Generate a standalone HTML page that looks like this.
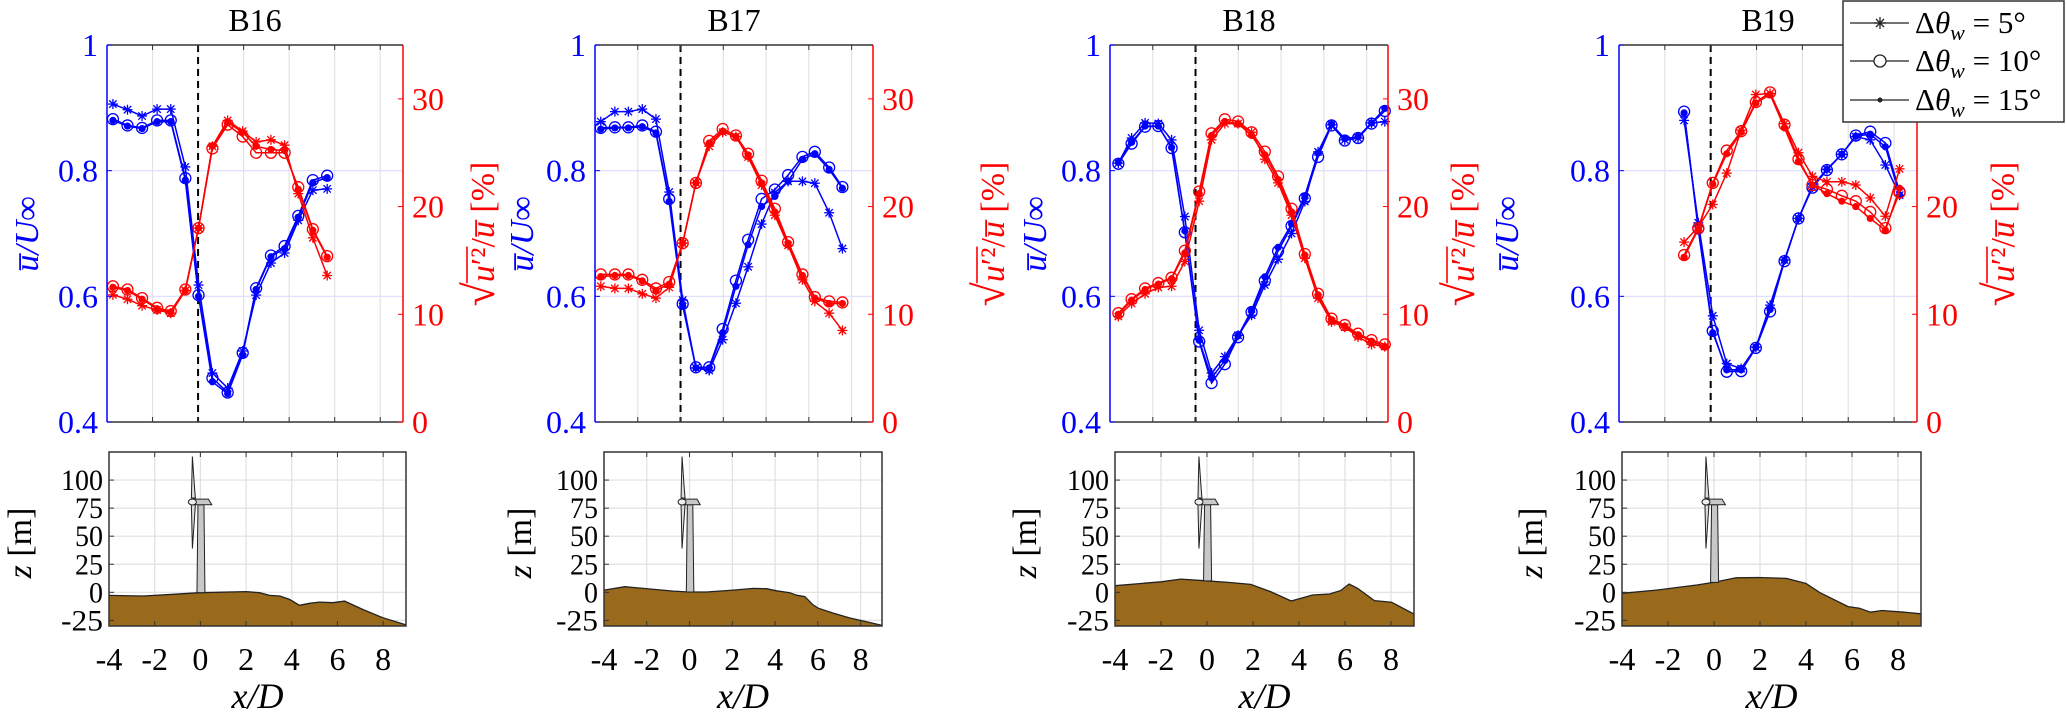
<!DOCTYPE html>
<html><head><meta charset="utf-8">
<style>
html,body{margin:0;padding:0;background:#fff;}
svg, svg text{font-family:"Liberation Serif","DejaVu Serif","Noto Serif CJK SC",serif;}
</style></head>
<body>
<svg id="chart" width="2067" height="718" viewBox="0 0 2067 718" xmlns="http://www.w3.org/2000/svg" font-family="Liberation Serif, DejaVu Serif, serif">
<g id="layer"></g>
<g>
  <rect x="1843" y="1" width="221" height="121" fill="#fff" stroke="#333" stroke-width="1.5"/>
  <g>
    <line x1="1850" y1="23" x2="1909" y2="23" stroke="#222" stroke-width="1.2"/>
    <g stroke="#222" stroke-width="1.3"><line x1="1874" y1="23" x2="1886" y2="23"/><line x1="1880" y1="17" x2="1880" y2="29"/><line x1="1876" y1="19" x2="1884" y2="27"/><line x1="1884" y1="19" x2="1876" y2="27"/></g>
    <text x="1915" y="33" font-size="31">Δ<tspan font-style="italic">θ</tspan><tspan font-style="italic" font-size="22" dy="7">w</tspan><tspan dy="-7"> = 5°</tspan></text>
  </g>
  <g>
    <line x1="1850" y1="61" x2="1909" y2="61" stroke="#222" stroke-width="1.2"/>
    <circle cx="1880" cy="61" r="6" fill="#fff" stroke="#222" stroke-width="1.3"/>
    <text x="1915" y="71" font-size="31">Δ<tspan font-style="italic">θ</tspan><tspan font-style="italic" font-size="22" dy="7">w</tspan><tspan dy="-7"> = 10°</tspan></text>
  </g>
  <g>
    <line x1="1850" y1="100" x2="1909" y2="100" stroke="#222" stroke-width="1.2"/>
    <circle cx="1880" cy="100" r="2.5" fill="#222"/>
    <text x="1915" y="110" font-size="31">Δ<tspan font-style="italic">θ</tspan><tspan font-style="italic" font-size="22" dy="7">w</tspan><tspan dy="-7"> = 15°</tspan></text>
  </g>
</g>
</svg>
<script>
// ---------- data ----------
const panelNames = ["B16","B17","B18","B19"];
const uTicks = [0.4,0.6,0.8,1];
const uTickLabels = ["0.4","0.6","0.8","1"];
const tiTicks = [0,10,20,30];
const tiTickLabels = ["0","10","20","30"];
const xTicks = [-4,-2,0,2,4,6,8];
const xTickLabels = ["-4","-2","0","2","4","6","8"];
const zTicks = [-25,0,25,50,75,100];
const zTickLabels = ["-25","0","25","50","75","100"];

const b16X = [-3.74,-3.1,-2.46,-1.8,-1.2,-0.56,0.02,0.63,1.3,1.96,2.55,3.2,3.8,4.4,5.04,5.67];
const b16U5  = [0.906,0.897,0.887,0.898,0.898,0.806,0.618,0.478,0.454,0.513,0.602,0.653,0.669,0.721,0.769,0.771];
const b16U10 = [0.882,0.872,0.868,0.880,0.880,0.788,0.602,0.470,0.447,0.510,0.613,0.665,0.680,0.728,0.785,0.792];
const b16U15 = [0.880,0.871,0.867,0.878,0.878,0.785,0.600,0.464,0.445,0.507,0.611,0.663,0.676,0.726,0.781,0.789];
const b16T5  = [11.8,11.4,10.8,10.4,10.1,12.2,18.0,25.6,28.0,27.0,26.0,26.2,25.7,21.2,17.1,13.6];
const b16T10 = [12.6,12.3,11.5,10.6,10.3,12.3,18.0,25.4,27.6,26.5,25.0,25.0,25.0,21.8,17.9,15.4];
const b16T15 = [12.5,12.2,11.4,10.5,10.2,12.2,18.0,25.6,27.8,26.9,25.6,25.3,25.2,21.6,17.8,15.3];

const b17X = [-3.73,-3.07,-2.44,-1.79,-1.15,-0.53,0.10,0.72,1.34,1.97,2.59,3.16,3.79,4.41,5.03,5.70,6.28,6.95,7.57];
const b17U5  = [0.878,0.894,0.894,0.898,0.882,0.766,0.594,0.486,0.482,0.531,0.589,0.647,0.715,0.765,0.783,0.783,0.780,0.733,0.676];
const b17U10 = [0.868,0.869,0.869,0.872,0.862,0.755,0.588,0.487,0.487,0.548,0.625,0.690,0.755,0.770,0.793,0.822,0.830,0.805,0.774];
const b17U15 = [0.866,0.868,0.868,0.870,0.860,0.751,0.585,0.486,0.486,0.542,0.616,0.682,0.743,0.759,0.783,0.818,0.827,0.802,0.772];
const b17T5  = [12.6,12.4,12.4,11.9,11.5,12.5,16.6,22.2,25.6,26.9,26.5,24.6,22.0,19.2,16.4,13.2,11.2,10.1,8.5];
const b17T10 = [13.7,13.7,13.7,13.2,12.4,13.0,16.6,22.2,26.1,27.2,26.6,24.9,22.4,19.8,16.7,13.7,11.6,11.2,11.1];
const b17T15 = [13.5,13.6,13.6,13.1,12.2,12.8,16.6,22.2,25.9,27.0,26.5,24.8,22.2,19.5,16.6,13.6,11.5,11.0,11.0];

const b18X = [-3.61,-2.99,-2.36,-1.74,-1.12,-0.50,0.17,0.75,1.37,1.99,2.62,3.24,3.86,4.49,5.11,5.73,6.36,6.98,7.60,8.23,8.85];
const b18U5  = [0.812,0.852,0.876,0.875,0.849,0.727,0.546,0.478,0.504,0.538,0.570,0.618,0.659,0.700,0.751,0.830,0.873,0.849,0.852,0.876,0.878];
const b18U10 = [0.811,0.843,0.870,0.871,0.836,0.702,0.528,0.462,0.492,0.535,0.575,0.625,0.672,0.712,0.756,0.822,0.872,0.848,0.852,0.875,0.895];
const b18U15 = [0.813,0.845,0.871,0.871,0.837,0.704,0.530,0.470,0.498,0.537,0.578,0.631,0.678,0.715,0.760,0.828,0.874,0.851,0.854,0.876,0.899];
const b18T5  = [9.8,11.0,11.9,12.5,12.6,14.9,20.5,26.2,27.7,27.7,26.9,24.4,22.2,19.2,15.2,11.5,9.3,8.8,7.9,7.2,7.0];
const b18T10 = [10.1,11.4,12.4,12.9,13.4,15.9,21.4,26.8,28.1,27.9,26.9,25.1,22.8,19.8,15.6,11.9,9.6,9.0,8.2,7.6,7.2];
const b18T15 = [10.0,11.3,12.3,12.8,13.3,15.7,21.2,26.6,27.9,27.7,26.6,24.8,22.5,19.5,15.5,11.8,9.5,8.9,8.1,7.5,7.0];

const b19X = [-1.16,-0.54,0.09,0.70,1.33,1.97,2.59,3.22,3.83,4.44,5.07,5.72,6.33,6.96,7.62,8.24];
const b19U5  = [0.880,0.717,0.569,0.493,0.485,0.519,0.586,0.658,0.724,0.774,0.802,0.826,0.854,0.849,0.809,0.761];
const b19U10 = [0.894,0.708,0.545,0.480,0.481,0.518,0.576,0.656,0.724,0.773,0.801,0.826,0.856,0.862,0.844,0.766];
const b19U15 = [0.892,0.706,0.542,0.483,0.483,0.519,0.579,0.657,0.724,0.776,0.802,0.826,0.855,0.858,0.838,0.761];
const b19T5  = [16.7,18.1,20.2,23.1,27.1,30.4,30.5,27.7,25.0,22.8,22.3,22.3,22.0,20.8,19.1,23.5];
const b19T10 = [15.5,18.0,22.2,25.2,27.0,29.7,30.6,27.6,24.4,22.0,21.6,21.0,20.5,19.5,18.0,21.3];
const b19T15 = [15.3,17.9,22.1,24.9,26.9,29.6,30.4,27.3,24.2,22.0,21.2,20.5,20.0,18.9,17.8,21.7];

const b16TerrX = [-4,-2.5,-1.19,-0.03,2.01,2.59,3.03,3.47,3.90,4.34,4.78,5.21,5.80,6.31,7.10,7.98,9.0];
const b16TerrZ = [-2.7,-3.3,-1.8,-0.3,0.6,-0.3,-2.7,-3.3,-6.3,-11.6,-9.8,-8.7,-9.2,-7.8,-15.2,-22.6,-29];
const b17TerrX = [-4,-3.02,-2.16,-0.76,-0.01,0.80,2.04,2.98,3.60,4.07,4.69,5.00,5.39,5.78,6.02,6.72,7.50,8.28,9.0];
const b17TerrZ = [2.0,5.0,3.5,1.1,0.3,0.3,2.0,3.5,3.2,1.4,-0.3,-2.6,-3.8,-11.2,-14.1,-18.5,-22.9,-26.2,-29.5];
const b18TerrX = [-4,-2.0,-1.14,-0.04,0.93,1.90,2.76,3.66,4.59,5.32,5.81,6.18,6.55,7.28,8.02,9.0];
const b18TerrZ = [5.9,9.4,11.8,10.3,8.8,7.1,0.6,-7.7,-2.4,-1.5,1.5,7.4,3.5,-7.4,-8.8,-19.4];
const b19TerrX = [-4,-2.46,-0.75,-0.02,0.96,1.93,3.15,4.0,4.61,5.83,6.32,6.81,7.30,8.28,9.0];
const b19TerrZ = [-0.9,2.1,6.5,8.8,12.9,13.2,12.4,7.9,-0.3,-12.7,-14.1,-17.7,-16.2,-17.7,-19.1];

// ---------- layout ----------
const upperBox = [{l:107,r:403},{l:595,r:873},{l:1110,r:1388},{l:1619,r:1917}];
const lowerBox = [{l:109,r:406},{l:604,r:882},{l:1115,r:1414},{l:1622,r:1921}];
const blueLabelX = [27,522,1035,1507];
const redLabelX = [480,990,1460,2000];
const zLabelX = [20,520,1025,1531];
const UT=45, UB=422, LT=452, LB=626;
const FONT="Liberation Serif, DejaVu Serif, serif";
const NS="http://www.w3.org/2000/svg";
const layer=document.getElementById('layer');
function mk(tag,attrs,parent){const e=document.createElementNS(NS,tag);for(const k in attrs)e.setAttribute(k,attrs[k]);if(tag==='text')e.setAttribute('font-family',FONT);(parent||layer).appendChild(e);return e;}

const sx=(b,x)=>b.l+(x+4)/13*(b.r-b.l);
const syU=u=>UB-(u-0.4)/0.6*(UB-UT);
const syT=t=>UB-t/35*(UB-UT);
const sz=z=>LB-(z+30)/155*(LB-LT);

const panelData=[
 {x:b16X,u:[b16U5,b16U10,b16U15],t:[b16T5,b16T10,b16T15],tx:b16TerrX,tz:b16TerrZ},
 {x:b17X,u:[b17U5,b17U10,b17U15],t:[b17T5,b17T10,b17T15],tx:b17TerrX,tz:b17TerrZ},
 {x:b18X,u:[b18U5,b18U10,b18U15],t:[b18T5,b18T10,b18T15],tx:b18TerrX,tz:b18TerrZ},
 {x:b19X,u:[b19U5,b19U10,b19U15],t:[b19T5,b19T10,b19T15],tx:b19TerrX,tz:b19TerrZ}];
const seriesNames=["5deg","10deg","15deg"];

function marker(g,kind,x,y,col){
  if(kind===0){
    const m=mk('g',{stroke:col,'stroke-width':1.3},g);
    
    
    mk('line',{x1:x-5,y1:y,x2:x+5,y2:y},m);mk('line',{x1:x,y1:y-5,x2:x,y2:y+5},m);
    mk('line',{x1:x-3.7,y1:y-3.7,x2:x+3.7,y2:y+3.7},m);mk('line',{x1:x+3.7,y1:y-3.7,x2:x-3.7,y2:y+3.7},m);
  } else if(kind===1){
    const c=mk('circle',{cx:x,cy:y,r:5.5,fill:'none',stroke:col,'stroke-width':1.3},g);
    
    
  } else {
    const c=mk('circle',{cx:x,cy:y,r:3.6,fill:col},g);
    
    
  }
}

panelData.forEach((d,p)=>{
  const b=upperBox[p], lb=lowerBox[p];
  const g=mk('g',{});
  
  
  const tt=mk('text',{x:(b.l+b.r)/2,y:31,'font-size':32,'text-anchor':'middle',fill:'#000'},g);
  tt.textContent=panelNames[p];
  
  
  xTicks.forEach(v=>{ if(v>-4){const X=sx(b,v); mk('line',{x1:X,y1:UT,x2:X,y2:UB,stroke:'#e3e3e3','stroke-width':1.2},g);} });
  [0.6,0.8].forEach(v=>mk('line',{x1:b.l,y1:syU(v),x2:b.r,y2:syU(v),stroke:'#dcdcff','stroke-width':1.2},g));
  const dl=mk('line',{x1:sx(b,0),y1:UT,x2:sx(b,0),y2:UB,stroke:'#000','stroke-width':2,'stroke-dasharray':'7,5'},g);
  
  
  const cols=['#0000ff','#ff0000'];
  [d.u,d.t].forEach((arrs,k)=>{
    const yf=k===0?syU:syT;
    arrs.forEach((vals,s)=>{
      const sg=mk('g',{},g);
      
      
      const pts=vals.map((v,i)=>sx(b,d.x[i]).toFixed(1)+','+yf(v).toFixed(1)).join(' ');
      mk('polyline',{points:pts,fill:'none',stroke:cols[k],'stroke-width':1.5},sg);
      vals.forEach((v,i)=>marker(sg,s,sx(b,d.x[i]),yf(v),cols[k]));
    });
  });
  mk('line',{x1:b.l,y1:UT,x2:b.r,y2:UT,stroke:'#333','stroke-width':1.5},g);
  mk('line',{x1:b.l,y1:UB,x2:b.r,y2:UB,stroke:'#333','stroke-width':1.5},g);
  xTicks.forEach(v=>{const X=sx(b,v);mk('line',{x1:X,y1:UB,x2:X,y2:UB-5,stroke:'#333'},g);mk('line',{x1:X,y1:UT,x2:X,y2:UT+5,stroke:'#333'},g);});
  const la=mk('line',{x1:b.l,y1:UT,x2:b.l,y2:UB,stroke:'#0000ff','stroke-width':1.5},g);
  
  
  const ra=mk('line',{x1:b.r,y1:UT,x2:b.r,y2:UB,stroke:'#ff0000','stroke-width':1.5},g);
  
  
  uTicks.forEach((v,i)=>{const Y=syU(v);mk('line',{x1:b.l,y1:Y,x2:b.l+5,y2:Y,stroke:'#0000ff'},g);
    const t=mk('text',{x:b.l-9,y:Y+11,'font-size':32,'text-anchor':'end',fill:'#0000ff'},g);t.textContent=uTickLabels[i];
    
    });
  tiTicks.forEach((v,i)=>{const Y=syT(v);mk('line',{x1:b.r,y1:Y,x2:b.r-5,y2:Y,stroke:'#ff0000'},g);
    const t=mk('text',{x:b.r+9,y:Y+11,'font-size':32,fill:'#ff0000'},g);t.textContent=tiTickLabels[i];
    
    });
  const bl=mk('text',{x:0,y:0,'font-size':34,'text-anchor':'middle',fill:'#0000ff','font-style':'italic',transform:`translate(${blueLabelX[p]+11},234) rotate(-90)`},g);
  bl.textContent='u\u0305/U∞';
  
  
  const rg=mk('g',{transform:`translate(${redLabelX[p]+14},234) rotate(-90)`},g);
  
  
  const rt=mk('text',{x:0,y:0,'font-size':34,'text-anchor':'middle',fill:'#ff0000'},rg);
  rt.innerHTML='<tspan font-size="44">√</tspan><tspan font-style="italic">u</tspan>′²/<tspan font-style="italic">u\u0305</tspan> [%]';
  try{
    const s=rt.getExtentOfChar(1), e=rt.getExtentOfChar(3);
    mk('line',{x1:s.x-1,y1:s.y+2,x2:e.x+e.width+1,y2:s.y+2,stroke:'#ff0000','stroke-width':1.6},rg);
  }catch(err){}

  const lg=mk('g',{},g);
  
  
  xTicks.forEach(v=>{ if(v>-4){const X=sx(lb,v); mk('line',{x1:X,y1:LT,x2:X,y2:LB,stroke:'#e0e0e0','stroke-width':1.2},lg);} });
  zTicks.forEach(v=>mk('line',{x1:lb.l,y1:sz(v),x2:lb.r,y2:sz(v),stroke:'#e0e0e0','stroke-width':1.2},lg));
  let pts=d.tx.map((x,i)=>sx(lb,x).toFixed(1)+','+sz(d.tz[i]).toFixed(1)).join(' ');
  const terr=mk('polygon',{points:`${lb.l},${LB} `+pts+` ${lb.r},${LB}`,fill:'#9a6a1c',stroke:'none'},lg);
  
  
  mk('polyline',{points:pts,fill:'none',stroke:'#222','stroke-width':1.3},lg);
  let base=0; for(let i=0;i<d.tx.length-1;i++){if(d.tx[i]<=0&&d.tx[i+1]>=0){const f=(0-d.tx[i])/(d.tx[i+1]-d.tx[i]);base=d.tz[i]+f*(d.tz[i+1]-d.tz[i]);}}
  const tg=mk('g',{stroke:'#222','stroke-width':1,fill:'#c8c8c8'},lg);
  
  
  const x0=sx(lb,-0.15),x1=sx(lb,0.2);
  mk('polygon',{points:`${x0},${sz(base)} ${x1},${sz(base)} ${x1-1},${sz(78)} ${x0+1},${sz(78)}`},tg);
  mk('polygon',{points:`${sx(lb,-0.3)},${sz(78)} ${sx(lb,0.5)},${sz(78)} ${sx(lb,0.35)},${sz(83)} ${sx(lb,-0.3)},${sz(83)}`},tg);
  const hx=sx(lb,-0.35);
  mk('polygon',{points:`${hx},${sz(121)} ${hx+2},${sz(95)} ${hx+3},${sz(84)} ${hx-1},${sz(84)}`,fill:'#ddd'},tg);
  mk('polygon',{points:`${hx},${sz(39)} ${hx+2},${sz(65)} ${hx+3},${sz(78)} ${hx-1},${sz(78)}`,fill:'#ddd'},tg);
  mk('ellipse',{cx:hx,cy:sz(80.5),rx:4,ry:3,fill:'#eee'},tg);
  mk('rect',{x:lb.l,y:LT,width:lb.r-lb.l,height:LB-LT,fill:'none',stroke:'#333','stroke-width':1.5},lg);
  xTicks.forEach((v,i)=>{const X=sx(lb,v);mk('line',{x1:X,y1:LB,x2:X,y2:LB-5,stroke:'#333'},lg);mk('line',{x1:X,y1:LT,x2:X,y2:LT+5,stroke:'#333'},lg);
    const t=mk('text',{x:X,y:670,'font-size':32,'text-anchor':'middle',fill:'#000'},lg);t.textContent=xTickLabels[i];
    
    });
  zTicks.forEach((v,i)=>{const Y=sz(v);mk('line',{x1:lb.l,y1:Y,x2:lb.l+5,y2:Y,stroke:'#333'},lg);
    const t=mk('text',{x:lb.l-6,y:Y+10,'font-size':30,'text-anchor':'end',fill:'#000',textLength:zTickLabels[i].length*14,lengthAdjust:'spacingAndGlyphs'},lg);t.textContent=zTickLabels[i];
    
    });
  const xl=mk('text',{x:(lb.l+lb.r)/2,y:708,'font-size':36,'text-anchor':'middle','font-style':'italic',fill:'#000'},lg);
  xl.textContent='x/D';
  
  
  const zl=mk('text',{x:0,y:0,'font-size':34,'text-anchor':'middle',fill:'#000',transform:`translate(${zLabelX[p]+11},543) rotate(-90)`},lg);
  zl.innerHTML='<tspan font-style="italic">z</tspan> [m]';
  
  
});
</script>
</body></html>
